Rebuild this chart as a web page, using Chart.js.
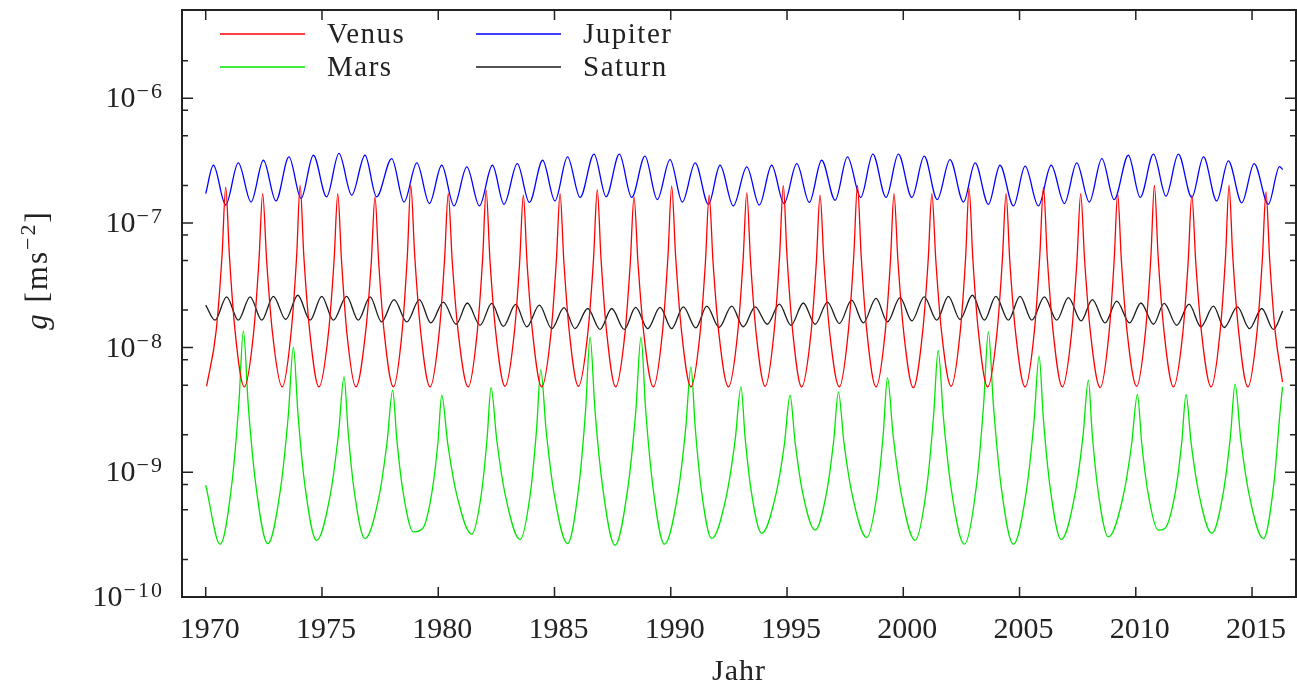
<!DOCTYPE html>
<html>
<head>
<meta charset="utf-8">
<title>g – Venus, Mars, Jupiter, Saturn</title>
<script src="https://cdn.jsdelivr.net/npm/chart.js@4.4.1/dist/chart.umd.min.js"></script>
<style>
  html, body { margin: 0; padding: 0; background: #fff; }
  #myChart { display: block; }
</style>
</head>
<body>
<canvas id="myChart" width="1297" height="687"></canvas>
<script>
'use strict';

// [Jahr, g in m/s^2]
const venus = [
  [1970.04, 4.90e-9], [1970.45, 1.37e-8], [1970.70, 5.4e-8], [1970.86, 1.94e-7], [1971.02, 5.4e-8], [1971.26, 1.37e-8],
  [1971.66, 4.84e-9], [1972.06, 1.32e-8], [1972.29, 5.0e-8], [1972.45, 1.72e-7], [1972.62, 5.0e-8], [1972.87, 1.32e-8],
  [1973.29, 4.84e-9], [1973.68, 1.37e-8], [1973.91, 5.4e-8], [1974.06, 2.00e-7], [1974.22, 5.4e-8], [1974.47, 1.37e-8],
  [1974.87, 4.84e-9], [1975.28, 1.32e-8], [1975.52, 5.0e-8], [1975.68, 1.72e-7], [1975.84, 5.0e-8], [1976.07, 1.32e-8],
  [1976.46, 4.84e-9], [1976.87, 1.30e-8], [1977.12, 4.8e-8], [1977.28, 1.62e-7], [1977.44, 4.8e-8], [1977.68, 1.30e-8],
  [1978.07, 4.84e-9], [1978.45, 1.37e-8], [1978.67, 5.4e-8], [1978.82, 2.00e-7], [1978.99, 5.4e-8], [1979.24, 1.37e-8],
  [1979.65, 4.84e-9], [1980.04, 1.32e-8], [1980.27, 5.0e-8], [1980.43, 1.72e-7], [1980.60, 5.0e-8], [1980.86, 1.32e-8],
  [1981.29, 4.84e-9], [1981.68, 1.35e-8], [1981.91, 5.2e-8], [1982.06, 1.83e-7], [1982.22, 5.2e-8], [1982.47, 1.35e-8],
  [1982.87, 4.90e-9], [1983.27, 1.30e-8], [1983.50, 4.8e-8], [1983.66, 1.67e-7], [1983.82, 4.8e-8], [1984.06, 1.30e-8],
  [1984.45, 4.84e-9], [1984.85, 1.32e-8], [1985.08, 5.0e-8], [1985.24, 1.72e-7], [1985.40, 5.0e-8], [1985.64, 1.32e-8],
  [1986.03, 4.90e-9], [1986.44, 1.35e-8], [1986.68, 5.2e-8], [1986.84, 1.85e-7], [1987.00, 5.2e-8], [1987.24, 1.35e-8],
  [1987.63, 4.84e-9], [1988.03, 1.30e-8], [1988.26, 4.8e-8], [1988.42, 1.62e-7], [1988.59, 4.8e-8], [1988.84, 1.30e-8],
  [1989.25, 4.84e-9], [1989.65, 1.37e-8], [1989.88, 5.4e-8], [1990.04, 1.97e-7], [1990.21, 5.4e-8], [1990.46, 1.37e-8],
  [1990.87, 4.84e-9], [1991.26, 1.30e-8], [1991.49, 4.8e-8], [1991.65, 1.67e-7], [1991.82, 4.8e-8], [1992.07, 1.30e-8],
  [1992.48, 4.84e-9], [1992.88, 1.32e-8], [1993.11, 5.0e-8], [1993.27, 1.74e-7], [1993.43, 5.0e-8], [1993.67, 1.32e-8],
  [1994.06, 4.90e-9], [1994.45, 1.37e-8], [1994.68, 5.4e-8], [1994.84, 2.00e-7], [1995.00, 5.4e-8], [1995.24, 1.37e-8],
  [1995.63, 4.84e-9], [1996.03, 1.30e-8], [1996.26, 4.8e-8], [1996.42, 1.67e-7], [1996.59, 4.8e-8], [1996.84, 1.30e-8],
  [1997.25, 4.84e-9], [1997.64, 1.37e-8], [1997.87, 5.4e-8], [1998.03, 2.00e-7], [1998.19, 5.4e-8], [1998.43, 1.37e-8],
  [1998.83, 4.84e-9], [1999.22, 1.32e-8], [1999.45, 5.0e-8], [1999.60, 1.72e-7], [1999.77, 5.0e-8], [2000.02, 1.32e-8],
  [2000.43, 4.78e-9], [2000.83, 1.32e-8], [2001.07, 5.0e-8], [2001.23, 1.72e-7], [2001.40, 5.0e-8], [2001.65, 1.32e-8],
  [2002.06, 4.90e-9], [2002.45, 1.35e-8], [2002.68, 5.2e-8], [2002.83, 1.89e-7], [2002.99, 5.2e-8], [2003.23, 1.35e-8],
  [2003.63, 4.84e-9], [2004.03, 1.32e-8], [2004.26, 5.0e-8], [2004.42, 1.72e-7], [2004.58, 5.0e-8], [2004.83, 1.32e-8],
  [2005.24, 4.84e-9], [2005.64, 1.37e-8], [2005.87, 5.4e-8], [2006.03, 1.94e-7], [2006.19, 5.4e-8], [2006.44, 1.37e-8],
  [2006.84, 4.84e-9], [2007.24, 1.32e-8], [2007.47, 5.0e-8], [2007.63, 1.72e-7], [2007.80, 5.0e-8], [2008.05, 1.32e-8],
  [2008.47, 4.78e-9], [2008.85, 1.32e-8], [2009.07, 5.0e-8], [2009.22, 1.72e-7], [2009.38, 5.0e-8], [2009.63, 1.32e-8],
  [2010.04, 4.90e-9], [2010.42, 1.37e-8], [2010.65, 5.4e-8], [2010.80, 2.00e-7], [2010.96, 5.4e-8], [2011.21, 1.37e-8],
  [2011.62, 4.84e-9], [2012.02, 1.30e-8], [2012.25, 4.8e-8], [2012.41, 1.67e-7], [2012.58, 4.8e-8], [2012.83, 1.30e-8],
  [2013.24, 4.84e-9], [2013.63, 1.37e-8], [2013.86, 5.4e-8], [2014.01, 2.00e-7], [2014.17, 5.4e-8], [2014.42, 1.37e-8],
  [2014.82, 4.84e-9], [2015.21, 1.32e-8], [2015.44, 5.0e-8], [2015.60, 1.77e-7], [2015.76, 5.0e-8], [2016.00, 1.32e-8],
  [2016.31, 5.3e-9]
];

const mars = [
  [1970.00, 7.88e-10], [1970.62, 2.65e-10], [1971.12, 7.98e-10], [1971.42, 3.43e-9], [1971.62, 1.36e-8], [1971.83, 3.44e-9], [1972.15, 8.05e-10],
  [1972.67, 2.68e-10], [1973.22, 7.43e-10], [1973.55, 2.84e-9], [1973.77, 1.01e-8], [1973.97, 2.90e-9], [1974.27, 7.74e-10],
  [1974.77, 2.85e-10], [1975.36, 6.64e-10], [1975.71, 2.03e-9], [1975.95, 5.82e-9], [1976.13, 2.05e-9], [1976.40, 6.79e-10],
  [1976.85, 2.94e-10], [1977.45, 6.34e-10], [1977.80, 1.75e-9], [1978.04, 4.55e-9], [1978.22, 1.82e-9], [1978.49, 6.92e-10],
  [1978.93, 3.33e-10], [1979.33, 3.54e-10], [1979.74, 7.13e-10], [1979.99, 1.76e-9], [1980.15, 4.15e-9], [1980.41, 1.69e-9], [1980.80, 6.55e-10],
  [1981.44, 3.19e-10], [1981.86, 6.81e-10], [1982.10, 1.85e-9], [1982.27, 4.79e-9], [1982.52, 1.79e-9], [1982.90, 6.34e-10],
  [1983.52, 2.89e-10], [1983.97, 6.97e-10], [1984.23, 2.22e-9], [1984.41, 6.67e-9], [1984.64, 2.17e-9], [1984.99, 6.61e-10],
  [1985.56, 2.68e-10], [1986.05, 7.82e-10], [1986.34, 3.21e-9], [1986.53, 1.22e-8], [1986.74, 3.17e-9], [1987.07, 7.64e-10],
  [1987.60, 2.60e-10], [1988.16, 7.64e-10], [1988.50, 3.17e-9], [1988.72, 1.22e-8], [1988.92, 3.19e-9], [1989.23, 7.74e-10],
  [1989.73, 2.65e-10], [1990.30, 6.62e-10], [1990.64, 2.22e-9], [1990.87, 7.00e-9], [1991.05, 2.31e-9], [1991.32, 7.14e-10],
  [1991.76, 2.94e-10], [1992.39, 6.44e-10], [1992.77, 1.82e-9], [1993.02, 4.84e-9], [1993.20, 1.88e-9], [1993.47, 6.90e-10],
  [1993.91, 3.24e-10], [1994.52, 6.61e-10], [1994.89, 1.70e-9], [1995.13, 4.15e-9], [1995.35, 1.73e-9], [1995.67, 6.90e-10],
  [1996.21, 3.44e-10], [1996.71, 7.03e-10], [1997.01, 1.81e-9], [1997.21, 4.42e-9], [1997.45, 1.72e-9], [1997.82, 6.37e-10],
  [1998.43, 3.00e-10], [1998.88, 6.86e-10], [1999.14, 2.05e-9], [1999.32, 5.75e-9], [1999.56, 2.01e-9], [1999.92, 6.61e-10],
  [2000.51, 2.85e-10], [2001.01, 7.60e-10], [2001.30, 2.78e-9], [2001.50, 9.48e-9], [2001.73, 2.71e-9], [2002.07, 7.21e-10],
  [2002.63, 2.65e-10], [2003.15, 7.94e-10], [2003.45, 3.39e-9], [2003.66, 1.34e-8], [2003.88, 3.39e-9], [2004.20, 7.94e-10],
  [2004.74, 2.65e-10], [2005.29, 7.00e-10], [2005.62, 2.53e-9], [2005.84, 8.53e-9], [2006.03, 2.61e-9], [2006.32, 7.46e-10],
  [2006.79, 2.89e-10], [2007.38, 6.59e-10], [2007.73, 1.96e-9], [2007.96, 5.48e-9], [2008.13, 1.99e-9], [2008.39, 6.82e-10],
  [2008.82, 3.03e-10], [2009.45, 6.34e-10], [2009.82, 1.68e-9], [2010.07, 4.22e-9], [2010.25, 1.76e-9], [2010.52, 6.93e-10],
  [2010.97, 3.44e-10], [2011.25, 3.55e-10], [2011.71, 7.10e-10], [2011.98, 1.77e-9], [2012.16, 4.22e-9], [2012.38, 1.72e-9], [2012.72, 6.64e-10],
  [2013.27, 3.24e-10], [2013.77, 7.00e-10], [2014.07, 1.94e-9], [2014.27, 5.09e-9], [2014.51, 1.88e-9], [2014.88, 6.55e-10],
  [2015.49, 2.94e-10], [2015.94, 8.15e-10], [2016.21, 3.13e-9], [2016.31, 4.84e-9]
];

const jupiter = [
  [1970.00, 1.72e-7], [1970.33, 2.90e-7], [1970.86, 1.39e-7], [1971.40, 3.03e-7], [1971.95, 1.47e-7], [1972.48, 3.18e-7],
  [1973.02, 1.50e-7], [1973.58, 3.38e-7], [1974.10, 1.57e-7], [1974.63, 3.49e-7], [1975.20, 1.62e-7], [1975.73, 3.61e-7],
  [1976.28, 1.67e-7], [1976.85, 3.49e-7], [1977.35, 1.62e-7], [1978.00, 3.28e-7], [1978.53, 1.47e-7], [1979.08, 3.03e-7],
  [1979.62, 1.43e-7], [1980.15, 2.90e-7], [1980.68, 1.37e-7], [1981.23, 2.81e-7], [1981.77, 1.37e-7], [1982.33, 2.90e-7],
  [1982.83, 1.41e-7], [1983.40, 2.99e-7], [1983.92, 1.46e-7], [1984.49, 3.18e-7], [1985.02, 1.50e-7], [1985.56, 3.38e-7],
  [1986.10, 1.60e-7], [1986.70, 3.56e-7], [1987.22, 1.62e-7], [1987.79, 3.56e-7], [1988.32, 1.60e-7], [1988.89, 3.43e-7],
  [1989.42, 1.54e-7], [1989.97, 3.22e-7], [1990.50, 1.47e-7], [1991.05, 3.03e-7], [1991.62, 1.41e-7], [1992.12, 2.90e-7],
  [1992.69, 1.37e-7], [1993.27, 2.81e-7], [1993.81, 1.39e-7], [1994.34, 2.90e-7], [1994.87, 1.43e-7], [1995.42, 2.99e-7],
  [1995.96, 1.46e-7], [1996.49, 3.18e-7], [1997.07, 1.52e-7], [1997.60, 3.38e-7], [1998.17, 1.60e-7], [1998.69, 3.56e-7],
  [1999.26, 1.60e-7], [1999.79, 3.56e-7], [2000.37, 1.60e-7], [2000.90, 3.43e-7], [2001.46, 1.54e-7], [2002.01, 3.22e-7],
  [2002.59, 1.47e-7], [2003.09, 3.03e-7], [2003.66, 1.41e-7], [2004.16, 2.90e-7], [2004.74, 1.37e-7], [2005.24, 2.85e-7],
  [2005.81, 1.37e-7], [2006.36, 2.90e-7], [2006.93, 1.43e-7], [2007.46, 3.03e-7], [2008.00, 1.47e-7], [2008.54, 3.28e-7],
  [2009.07, 1.54e-7], [2009.68, 3.49e-7], [2010.19, 1.60e-7], [2010.76, 3.56e-7], [2011.30, 1.64e-7], [2011.83, 3.56e-7],
  [2012.41, 1.60e-7], [2012.91, 3.38e-7], [2013.48, 1.50e-7], [2013.98, 3.15e-7], [2014.56, 1.45e-7], [2015.09, 2.99e-7],
  [2015.70, 1.41e-7], [2016.18, 2.83e-7], [2016.32, 2.68e-7]
];

const saturn = [
  [1970.00, 2.19e-8], [1970.40, 1.66e-8], [1970.90, 2.55e-8], [1971.40, 1.66e-8], [1971.91, 2.55e-8], [1972.41, 1.66e-8],
  [1972.91, 2.58e-8], [1973.44, 1.68e-8], [1973.96, 2.63e-8], [1974.49, 1.66e-8], [1974.99, 2.58e-8], [1975.49, 1.66e-8],
  [1976.06, 2.58e-8], [1976.56, 1.66e-8], [1977.07, 2.55e-8], [1977.56, 1.61e-8], [1978.10, 2.43e-8], [1978.65, 1.61e-8],
  [1979.19, 2.43e-8], [1979.68, 1.58e-8], [1980.22, 2.32e-8], [1980.77, 1.54e-8], [1981.25, 2.28e-8], [1981.80, 1.51e-8],
  [1982.30, 2.26e-8], [1982.80, 1.48e-8], [1983.33, 2.22e-8], [1983.81, 1.47e-8], [1984.35, 2.19e-8], [1984.88, 1.42e-8],
  [1985.41, 2.09e-8], [1985.88, 1.42e-8], [1986.43, 2.06e-8], [1986.96, 1.40e-8], [1987.46, 2.06e-8], [1988.00, 1.40e-8],
  [1988.49, 2.10e-8], [1989.01, 1.42e-8], [1989.54, 2.10e-8], [1990.04, 1.42e-8], [1990.54, 2.12e-8], [1991.08, 1.44e-8],
  [1991.55, 2.15e-8], [1992.08, 1.45e-8], [1992.62, 2.15e-8], [1993.12, 1.47e-8], [1993.63, 2.12e-8], [1994.15, 1.54e-8],
  [1994.67, 2.23e-8], [1995.17, 1.51e-8], [1995.70, 2.28e-8], [1996.21, 1.54e-8], [1996.74, 2.32e-8], [1997.25, 1.56e-8],
  [1997.78, 2.40e-8], [1998.28, 1.58e-8], [1998.83, 2.48e-8], [1999.32, 1.61e-8], [1999.86, 2.52e-8], [2000.37, 1.64e-8],
  [2000.90, 2.55e-8], [2001.44, 1.66e-8], [2001.94, 2.58e-8], [2002.44, 1.68e-8], [2002.97, 2.63e-8], [2003.49, 1.66e-8],
  [2003.98, 2.58e-8], [2004.52, 1.66e-8], [2005.02, 2.58e-8], [2005.53, 1.66e-8], [2006.07, 2.55e-8], [2006.60, 1.66e-8],
  [2007.10, 2.52e-8], [2007.65, 1.64e-8], [2008.13, 2.43e-8], [2008.68, 1.58e-8], [2009.18, 2.36e-8], [2009.73, 1.58e-8],
  [2010.22, 2.28e-8], [2010.76, 1.54e-8], [2011.22, 2.26e-8], [2011.76, 1.51e-8], [2012.29, 2.23e-8], [2012.80, 1.47e-8],
  [2013.34, 2.15e-8], [2013.80, 1.45e-8], [2014.37, 2.12e-8], [2014.89, 1.42e-8], [2015.42, 2.06e-8], [2015.92, 1.40e-8],
  [2016.32, 1.97e-8]
];

const seriesNames = ['Venus', 'Mars', 'Jupiter', 'Saturn'];
const xTicks = [1970, 1975, 1980, 1985, 1990, 1995, 2000, 2005, 2010, 2015];
const yTicks = [1e-10, 1e-9, 1e-8, 1e-7, 1e-6];
const yMinorTicks = [2e-10, 5e-10, 8e-10, 2e-9, 5e-9, 8e-9, 2e-8, 5e-8, 8e-8, 2e-7, 5e-7, 8e-7, 2e-6];

const colors = ['#ff0000', '#00e600', '#0000ff', '#1a1a1a'];
const ink = '#222';
const serif = '"Liberation Serif", "DejaVu Serif", serif';

const toPoints = rows => rows.map(([x, y]) => ({x, y}));

function spacing(ctx, px) {
    if ('letterSpacing' in ctx) ctx.letterSpacing = px + 'px';
}

// axes, ticks, labels and key drawn on top, positioned via the chart's scales
const decorations = {
    id: 'decorations',
    beforeDraw(chart) {
        const ctx = chart.ctx;
        ctx.save();
        ctx.fillStyle = '#fff';
        ctx.fillRect(0, 0, chart.width, chart.height);
        ctx.restore();
    },
    afterDraw(chart) {
        const {ctx, chartArea: a, scales: {x, y}} = chart;
        ctx.save();

        // frame
        ctx.strokeStyle = ink;
        ctx.lineWidth = 2;
        ctx.strokeRect(a.left, a.top, a.right - a.left, a.bottom - a.top);

        // inward ticks
        ctx.lineWidth = 1.5;
        ctx.beginPath();
        xTicks.forEach(v => {
            const px = x.getPixelForValue(v);
            ctx.moveTo(px, a.bottom); ctx.lineTo(px, a.bottom - 10);
            ctx.moveTo(px, a.top); ctx.lineTo(px, a.top + 10);
        });
        yTicks.forEach(v => {
            const py = y.getPixelForValue(v);
            ctx.moveTo(a.left, py); ctx.lineTo(a.left + 11, py);
            ctx.moveTo(a.right, py); ctx.lineTo(a.right - 11, py);
        });
        yMinorTicks.forEach(v => {
            const py = y.getPixelForValue(v);
            ctx.moveTo(a.left, py); ctx.lineTo(a.left + 6, py);
            ctx.moveTo(a.right, py); ctx.lineTo(a.right - 6, py);
        });
        ctx.stroke();

        // tick labels
        ctx.fillStyle = ink;
        ctx.textBaseline = 'alphabetic';
        ctx.font = '30px ' + serif;
        ctx.textAlign = 'center';
        xTicks.forEach(v => ctx.fillText(String(v), x.getPixelForValue(v) + 4, a.bottom + 41));

        ctx.textAlign = 'right';
        yTicks.forEach(v => {
            const py = y.getPixelForValue(v);
            const exp = '\u2212' + Math.round(-Math.log10(v));
            ctx.font = '22px ' + serif;
            spacing(ctx, 2);
            ctx.fillText(exp, 164, py);
            const w = ctx.measureText(exp).width;
            spacing(ctx, 0);
            ctx.font = '30px ' + serif;
            ctx.fillText('10', 164 - w - 1, py + 9);
        });

        // axis titles
        ctx.textAlign = 'center';
        ctx.font = '30px ' + serif;
        spacing(ctx, 1);
        ctx.fillText('Jahr', (a.left + a.right) / 2, 680);

        const parts = [
            {t: 'g', f: 'italic 31px ' + serif, dy: 0},
            {t: ' [ms', f: '31px ' + serif, dy: 0},
            {t: '\u22122', f: '22px ' + serif, dy: -12},
            {t: ']', f: '31px ' + serif, dy: 0}
        ];
        spacing(ctx, 2);
        let total = 0;
        parts.forEach(p => { ctx.font = p.f; p.w = ctx.measureText(p.t).width; total += p.w; });
        ctx.translate(47, 270);
        ctx.rotate(-Math.PI / 2);
        ctx.textAlign = 'left';
        let cx = -total / 2;
        parts.forEach(p => { ctx.font = p.f; ctx.fillText(p.t, cx, p.dy); cx += p.w; });
        ctx.setTransform(1, 0, 0, 1, 0, 0);

        // key, two columns
        const keyCols = [220, 476];
        const keyRows = [43, 76];
        ctx.font = '29px ' + serif;
        spacing(ctx, 1.5);
        ctx.textAlign = 'left';
        ctx.lineWidth = 1.3;
        seriesNames.forEach((name, i) => {
            const col = Math.floor(i / 2), row = i % 2;
            const lx = keyCols[col], by = keyRows[row];
            ctx.strokeStyle = colors[i];
            ctx.beginPath();
            ctx.moveTo(lx, by - 9); ctx.lineTo(lx + 85, by - 9);
            ctx.stroke();
            ctx.fillStyle = ink;
            ctx.fillText(name, lx + 107, by);
        });

        ctx.restore();
    }
};

const ctx = document.getElementById('myChart');

const myChart = new Chart(ctx, {
    type: 'line',
    data: {
        datasets: [venus, mars, jupiter, saturn].map((rows, i) => ({
            label: seriesNames[i],
            data: toPoints(rows),
            borderColor: colors[i],
            backgroundColor: colors[i],
            borderWidth: 1.3,
            pointRadius: 0,
            fill: false,
            cubicInterpolationMode: 'monotone'
        }))
    },
    options: {
        responsive: false,
        devicePixelRatio: 1,
        animation: false,
        events: [],
        layout: {
            padding: {left: 182, right: 1, top: 10, bottom: 90}
        },
        plugins: {
            legend: {display: false},
            tooltip: {enabled: false}
        },
        scales: {
            x: {
                type: 'linear',
                min: 1968.98,
                max: 2016.89,
                display: false
            },
            y: {
                type: 'logarithmic',
                min: 1e-10,
                max: 5.1e-6,
                display: false
            }
        }
    },
    plugins: [decorations]
});
</script>
</body>
</html>
